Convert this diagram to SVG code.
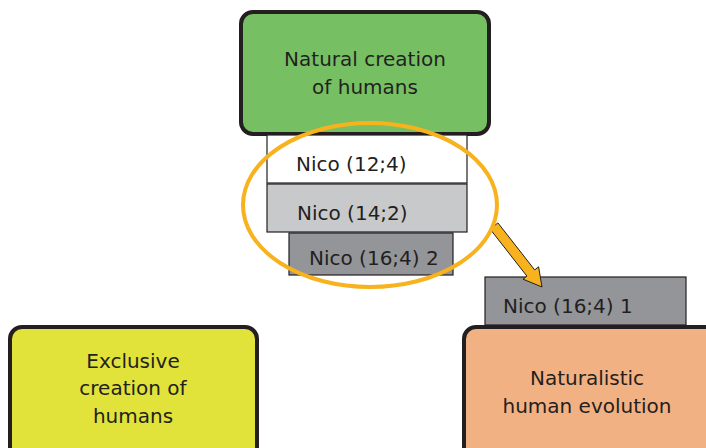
<svg xmlns="http://www.w3.org/2000/svg" width="706" height="448" viewBox="0 0 706 448">
  <style>
    .box { stroke: #231f20; stroke-width: 4; }
    .bar { stroke: #231f20; stroke-width: 1.2; }
    text { font-family: "DejaVu Sans", Verdana, sans-serif; font-size: 20px; fill: #231f20; }
    .c { text-anchor: middle; }
  </style>
  <rect width="706" height="448" fill="#ffffff"/>

  <g id="natural-creation">
    <rect class="box" x="241" y="12" width="248" height="122" rx="12" fill="#77bf63"/>
    <text class="c" x="365" y="66">Natural creation</text>
    <text class="c" x="365" y="94">of humans</text>
  </g>

  <g id="nico-12-4">
    <rect class="bar" x="267" y="135" width="200" height="48" fill="#ffffff"/>
    <text x="296" y="171">Nico (12;4)</text>
  </g>

  <g id="nico-14-2">
    <rect class="bar" x="267" y="184" width="200" height="48" fill="#c8c9cb"/>
    <text x="297" y="220">Nico (14;2)</text>
  </g>

  <g id="nico-16-4-2">
    <rect class="bar" x="289" y="233" width="164" height="42" fill="#939598"/>
    <text x="309" y="265">Nico (16;4) 2</text>
  </g>

  <g id="nico-16-4-1">
    <rect class="bar" x="485" y="277" width="201" height="48" fill="#939598"/>
    <text x="503" y="313">Nico (16;4) 1</text>
  </g>

  <g id="naturalistic-evolution">
    <rect class="box" x="464" y="327" width="260" height="140" rx="12" fill="#f2b183"/>
    <text class="c" x="587" y="385">Naturalistic</text>
    <text class="c" x="587" y="413">human evolution</text>
  </g>

  <g id="exclusive-creation">
    <rect class="box" x="10" y="327" width="247" height="140" rx="12" fill="#e1e23a"/>
    <text class="c" x="133" y="368">Exclusive</text>
    <text class="c" x="133" y="395">creation of</text>
    <text class="c" x="133" y="423">humans</text>
  </g>

  <g id="connectors">
    <!-- block arrow from the ring down to the last stage -->
    <polygon points="490.1,229.1 497.9,222.9 534.7,269.9 538.6,266.8 542,287 523,279.2 526.9,276.1"
             fill="#f7b21d" stroke="#231f20" stroke-width="1" stroke-linejoin="miter"/>
    <!-- selection ring around the first three stages -->
    <ellipse cx="370" cy="205" rx="127" ry="82" fill="none" stroke="#f7b21d" stroke-width="4"/>
  </g>
</svg>
